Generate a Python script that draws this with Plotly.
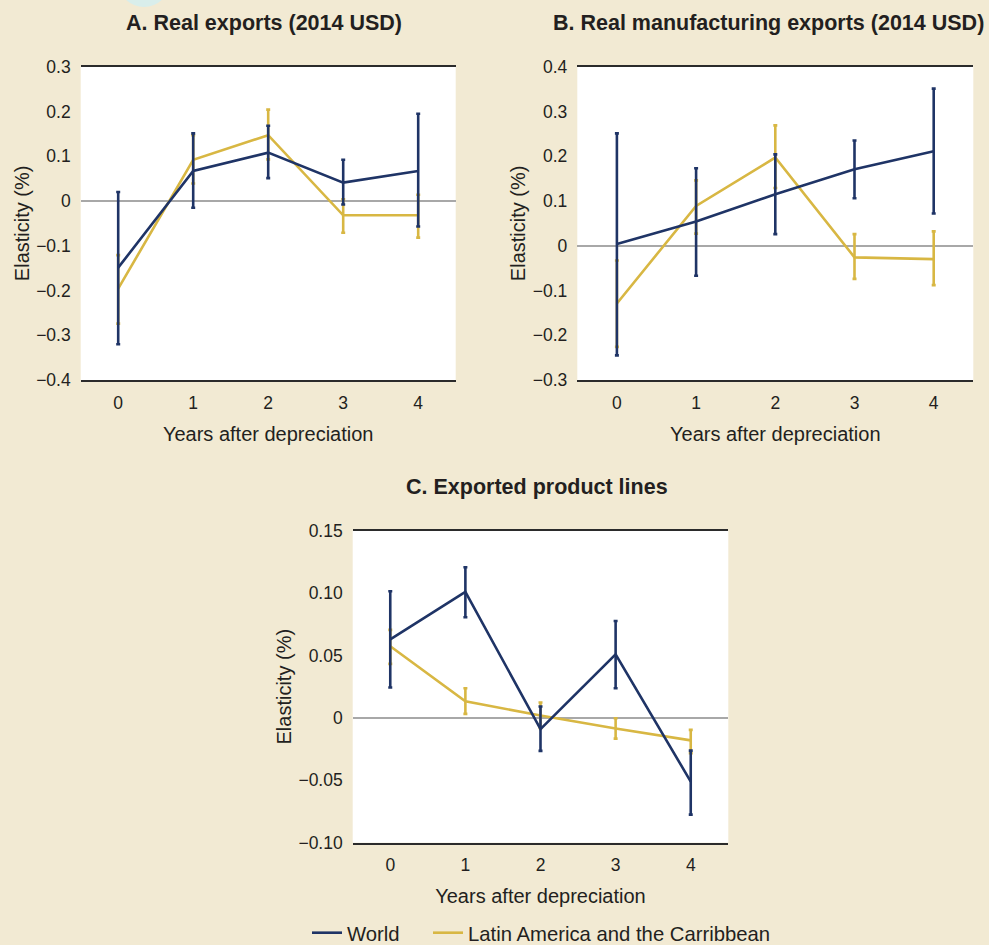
import plotly.graph_objects as go

# Years after the depreciation episode
years = [0, 1, 2, 3, 4]

# A. Real exports (2014 USD)
a_world = [-0.149, 0.067, 0.108, 0.041, 0.067]
a_world_hi = [0.020, 0.151, 0.168, 0.092, 0.195]
a_world_lo = [-0.320, -0.015, 0.051, -0.008, -0.057]
a_lac = [-0.196, 0.092, 0.147, -0.032, -0.032]
a_lac_hi = [-0.121, 0.147, 0.204, 0.004, 0.014]
a_lac_lo = [-0.274, 0.039, 0.093, -0.071, -0.082]

# B. Real manufacturing exports (2014 USD)
b_world = [0.004, 0.054, 0.115, 0.171, 0.211]
b_world_hi = [0.251, 0.173, 0.204, 0.235, 0.351]
b_world_lo = [-0.245, -0.067, 0.026, 0.106, 0.072]
b_lac = [-0.129, 0.089, 0.197, -0.026, -0.030]
b_lac_hi = [-0.033, 0.146, 0.269, 0.026, 0.032]
b_lac_lo = [-0.226, 0.027, 0.129, -0.074, -0.088]

# C. Exported product lines
c_world = [0.063, 0.101, -0.009, 0.051, -0.051]
c_world_hi = [0.1015, 0.1207, 0.0091, 0.0777, -0.0262]
c_world_lo = [0.0243, 0.0807, -0.0264, 0.0238, -0.0775]
c_lac = [0.0574, 0.0134, 0.0019, -0.0085, -0.018]
c_lac_hi = [0.0705, 0.0238, 0.0123, -0.0003, -0.0096]
c_lac_lo = [0.0433, 0.0032, -0.008, -0.0166, -0.0283]

a_ticks = [0.3, 0.2, 0.1, 0, -0.1, -0.2, -0.3, -0.4]
a_labels = ["0.3", "0.2", "0.1", "0", "\u22120.1", "\u22120.2", "\u22120.3", "\u22120.4"]
b_ticks = [0.4, 0.3, 0.2, 0.1, 0, -0.1, -0.2, -0.3]
b_labels = ["0.4", "0.3", "0.2", "0.1", "0", "\u22120.1", "\u22120.2", "\u22120.3"]
c_ticks = [0.15, 0.10, 0.05, 0, -0.05, -0.10]
c_labels = ["0.15", "0.10", "0.05", "0", "\u22120.05", "\u22120.10"]

series_names = ["World", "Latin America and the Carribbean"]
titles = ["A. Real exports (2014 USD)", "B. Real manufacturing exports (2014 USD)",
          "C. Exported product lines"]

NAVY = "#1f3466"
GOLD = "#d8b743"
BG = "#f2ead3"
TEXT = "#231f20"
FONT = "Liberation Sans, Arial, sans-serif"

W, H = 989, 945


def px_x(p):
    return p / W


def px_y(p):
    return 1 - p / H


fig = go.Figure()

panels = [
    ("x", "y", (a_world, a_world_hi, a_world_lo), (a_lac, a_lac_hi, a_lac_lo)),
    ("x2", "y2", (b_world, b_world_hi, b_world_lo), (b_lac, b_lac_hi, b_lac_lo)),
    ("x3", "y3", (c_world, c_world_hi, c_world_lo), (c_lac, c_lac_hi, c_lac_lo)),
]


def err(vals, hi, lo):
    return dict(type="data", symmetric=False,
                array=[h - v for h, v in zip(hi, vals)],
                arrayminus=[v - l for v, l in zip(vals, lo)],
                thickness=2.6, width=2)


for i, (xa, ya, w, l) in enumerate(panels):
    lv, lh, ll = l
    fig.add_trace(go.Scatter(
        x=years, y=lv, xaxis=xa, yaxis=ya, mode="lines",
        line=dict(color=GOLD, width=2.6), name=series_names[1],
        error_y=dict(err(lv, lh, ll), color=GOLD),
        showlegend=(i == 0), legend="legend2"))
    wv, wh, wl = w
    fig.add_trace(go.Scatter(
        x=years, y=wv, xaxis=xa, yaxis=ya, mode="lines",
        line=dict(color=NAVY, width=2.6), name=series_names[0],
        error_y=dict(err(wv, wh, wl), color=NAVY),
        showlegend=(i == 0), legend="legend"))

tickfont = dict(family=FONT, size=17.5, color=TEXT)
titlefont = dict(family=FONT, size=20, color=TEXT)


def xaxis(dom, anchor):
    return dict(domain=dom, anchor=anchor, range=[-0.5, 4.5],
                tickvals=years, ticktext=[str(y) for y in years],
                showgrid=False, zeroline=False, showline=True, mirror=True,
                linecolor="#2b2b2b", linewidth=1.5, ticks="",
                ticklabelstandoff=6, tickfont=tickfont, fixedrange=True,
                title=dict(text="Years after depreciation", font=titlefont, standoff=15))


def yaxis(dom, anchor, rng, tv, tt):
    return dict(domain=dom, anchor=anchor, range=rng, tickvals=tv, ticktext=tt,
                showgrid=False, showline=False, zeroline=True,
                zerolinecolor="#a8a8a8", zerolinewidth=1.5, ticks="",
                ticklabelstandoff=9, tickfont=tickfont, fixedrange=True,
                title=dict(text="Elasticity (%)", font=titlefont, standoff=1))


def legend_at(xpx):
    return dict(orientation="h", x=px_x(xpx), xanchor="left", y=px_y(933), yanchor="middle",
                font=dict(family=FONT, size=20.3, color=TEXT), bgcolor="rgba(0,0,0,0)",
                itemwidth=30)


top = [px_y(380), px_y(66.7)]
fig.update_layout(
    width=W, height=H,
    margin=dict(l=0, r=0, t=0, b=0, autoexpand=False),
    paper_bgcolor=BG, plot_bgcolor="white",
    font=dict(family=FONT, color=TEXT),
    xaxis=xaxis([px_x(80.7), px_x(455.7)], "y"),
    yaxis=yaxis(top, "x", [-0.4, 0.3], a_ticks, a_labels),
    xaxis2=xaxis([px_x(577.3), px_x(973.3)], "y2"),
    yaxis2=yaxis(top, "x2", [-0.3, 0.4], b_ticks, b_labels),
    xaxis3=xaxis([px_x(352.7), px_x(728.3)], "y3"),
    yaxis3=yaxis([px_y(842.7), px_y(530.7)], "x3", [-0.10, 0.15], c_ticks, c_labels),
    legend=legend_at(307),
    legend2=legend_at(428),
    showlegend=True,
)

# Panel titles
title_pos = [(264, 23), (768, 23), (537, 487)]
for t, (cx, cy) in zip(titles, title_pos):
    fig.add_annotation(text="<b>" + t + "</b>", xref="paper", yref="paper",
                       x=px_x(cx), y=px_y(cy), xanchor="center", yanchor="middle",
                       showarrow=False, font=dict(family=FONT, size=21.5, color=TEXT))

# Pale decorative disc at the top edge
fig.add_shape(type="circle", xref="paper", yref="paper",
              x0=px_x(118), x1=px_x(170), y0=px_y(7), y1=px_y(-45),
              fillcolor="#d9eeeb", line=dict(width=0), layer="below")

fig.write_html("out.html")
